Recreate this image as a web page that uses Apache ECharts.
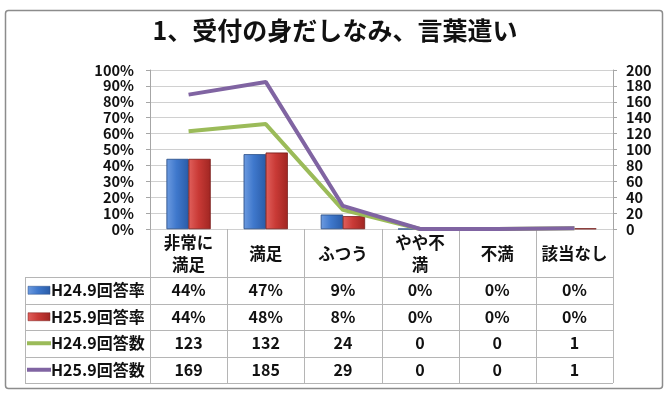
<!DOCTYPE html>
<html><head><meta charset="utf-8">
<script src="https://cdn.jsdelivr.net/npm/echarts@6/dist/echarts.min.js"></script>
<style>html,body{margin:0;padding:0;background:#fff}#c{width:670px;height:400px}</style>
</head><body><div id="c"></div>
<script>
var titleText = '1、受付の身だしなみ、言葉遣い';
var categories = ['非常に\n満足', '満足', 'ふつう', 'やや不\n満', '不満', '該当なし'];
var rateH24 = [44, 47, 9, 0, 0, 0.3];
var rateH25 = [44, 48, 8, 0, 0, 0.3];
var countH24 = [123, 132, 24, 0, 0, 1];
var countH25 = [169, 185, 29, 0, 0, 1];
var seriesNames = ['H24.9回答率', 'H25.9回答率', 'H24.9回答数', 'H25.9回答数'];
var leftTicks = [0, 100, 10];
var rightTicks = [0, 200, 20];

var FONT = '"Noto Sans CJK JP", "Noto Sans", sans-serif';
var blueGrad = new echarts.graphic.LinearGradient(0, 0, 1, 0, [
  {offset: 0, color: '#6d9be0'}, {offset: 0.45, color: '#3f78cc'}, {offset: 1, color: '#2a5ca8'}]);
var redGrad = new echarts.graphic.LinearGradient(0, 0, 1, 0, [
  {offset: 0, color: '#e0605c'}, {offset: 0.45, color: '#c93a36'}, {offset: 1, color: '#a02622'}]);
var GREEN = '#9bbb59', PURPLE = '#8064a2';

var chart = echarts.init(document.getElementById('c'));
var opt = {
  animation: false,
  title: {text: titleText, left: 'center', top: 13,
    textStyle: {fontFamily: FONT, fontSize: 25, fontWeight: 'bold', color: '#111'}},
  grid: {left: 150, right: 57, top: 70, bottom: 171, containLabel: false},
  xAxis: {type: 'category', data: categories,
    axisLine: {show: false}, axisTick: {show: false}, axisLabel: {show: false}, splitLine: {show: false}},
  yAxis: [
    {type: 'value', min: leftTicks[0], max: leftTicks[1], interval: leftTicks[2], position: 'left',
     axisLine: {show: true, lineStyle: {color: '#a6a6a6'}},
     axisTick: {show: true, length: 4, lineStyle: {color: '#a6a6a6'}},
     axisLabel: {formatter: '{value}%', color: '#111', fontFamily: FONT, fontSize: 14.5, fontWeight: 'bold', margin: 16},
     splitLine: {show: true, lineStyle: {color: '#d0d0d0'}}},
    {type: 'value', min: rightTicks[0], max: rightTicks[1], interval: rightTicks[2], position: 'right',
     axisLine: {show: true, lineStyle: {color: '#a6a6a6'}},
     axisTick: {show: true, length: 4, lineStyle: {color: '#a6a6a6'}},
     axisLabel: {color: '#111', fontFamily: FONT, fontSize: 14.5, fontWeight: 'bold', margin: 13},
     splitLine: {show: false}}
  ],
  series: [
    {name: seriesNames[0], type: 'bar', data: rateH24, yAxisIndex: 0, barWidth: 22, barGap: '0%',
     itemStyle: {color: blueGrad, borderColor: '#2b4f86', borderWidth: 0.5}},
    {name: seriesNames[1], type: 'bar', data: rateH25, yAxisIndex: 0, barWidth: 22, barGap: '0%',
     itemStyle: {color: redGrad, borderColor: '#7a1f1c', borderWidth: 0.5}},
    {name: seriesNames[2], type: 'line', data: countH24, yAxisIndex: 1, symbol: 'none',
     lineStyle: {color: GREEN, width: 4}, itemStyle: {color: GREEN}},
    {name: seriesNames[3], type: 'line', data: countH25, yAxisIndex: 1, symbol: 'none',
     lineStyle: {color: PURPLE, width: 4}, itemStyle: {color: PURPLE}}
  ]
};
chart.setOption(opt);

// Data table
var rows = [
  {name: seriesNames[0], vals: rateH24.map(function(v){return Math.round(v) + '%';}), key: 'bar', color: blueGrad},
  {name: seriesNames[1], vals: rateH25.map(function(v){return Math.round(v) + '%';}), key: 'bar', color: redGrad},
  {name: seriesNames[2], vals: countH24.map(String), key: 'line', color: GREEN},
  {name: seriesNames[3], vals: countH25.map(String), key: 'line', color: PURPLE}
];
var x0 = chart.convertToPixel({xAxisIndex: 0}, 0);
var x1 = chart.convertToPixel({xAxisIndex: 0}, 1);
var band = x1 - x0;
var plotLeft = x0 - band / 2;
var plotRight = plotLeft + band * categories.length;
var yBase = chart.convertToPixel({yAxisIndex: 0}, 0);
var headerH = 48, rowH = 26.5;
var tableLeft = 25;
var lineC = '#b5b5b5';
var g = [];
g.push({type: 'rect', shape: {x: 5.5, y: 10.5, width: 657, height: 378, r: 3},
  style: {fill: null, stroke: '#8c8c8c', lineWidth: 1.5}, silent: true});
var tableBottom = yBase + headerH + rowH * rows.length;
for (var i = 0; i <= categories.length; i++) {
  var xx = Math.round(plotLeft + band * i) + 0.5;
  g.push({type: 'line', shape: {x1: xx, y1: yBase, x2: xx, y2: tableBottom}, style: {stroke: lineC, lineWidth: 1}});
}
g.push({type: 'line', shape: {x1: tableLeft + 0.5, y1: yBase + headerH, x2: tableLeft + 0.5, y2: tableBottom}, style: {stroke: lineC, lineWidth: 1}});
for (var r = 0; r <= rows.length; r++) {
  var yy = Math.round(yBase + headerH + rowH * r) + 0.5;
  g.push({type: 'line', shape: {x1: tableLeft, y1: yy, x2: plotRight, y2: yy}, style: {stroke: lineC, lineWidth: 1}});
}
var txtStyle = {fontFamily: FONT, fontSize: 16, fontWeight: 'bold', fill: '#111', align: 'center', verticalAlign: 'middle', lineHeight: 22};
categories.forEach(function(c, i) {
  g.push({type: 'text', x: plotLeft + band * (i + 0.5), y: yBase + headerH / 2 + 1,
    style: Object.assign({}, txtStyle, {text: c, fontSize: 16.5})});
});
rows.forEach(function(row, r) {
  var cy = yBase + headerH + rowH * (r + 0.5);
  if (row.key === 'bar') {
    g.push({type: 'rect', shape: {x: 28, y: cy - 4, width: 22, height: 8}, style: {fill: row.color, stroke: r === 0 ? '#2b4f86' : '#7a1f1c', lineWidth: 0.5}});
  } else {
    g.push({type: 'line', shape: {x1: 27, y1: cy, x2: 51, y2: cy}, style: {stroke: row.color, lineWidth: 4}});
  }
  g.push({type: 'text', x: 51, y: cy, style: Object.assign({}, txtStyle, {text: row.name, align: 'left', fontSize: 16})});
  row.vals.forEach(function(v, i) {
    g.push({type: 'text', x: plotLeft + band * (i + 0.5), y: cy, style: Object.assign({}, txtStyle, {text: v})});
  });
});
chart.setOption({graphic: g});
</script></body></html>
